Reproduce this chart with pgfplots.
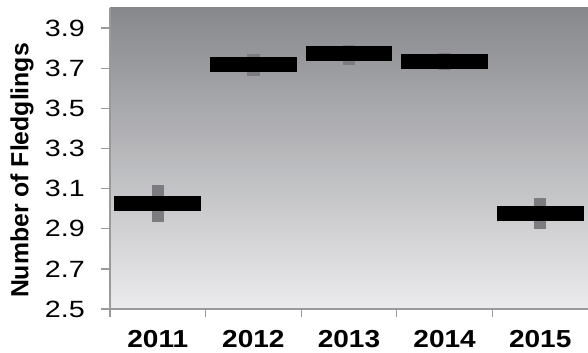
\documentclass[border=0pt]{standalone}
\usepackage{fontspec}
\setmainfont{Liberation Sans}
\usepackage{pgfplots}
\pgfplotsset{compat=1.18}
\definecolor{bgtop}{HTML}{87888C}
\definecolor{bgbot}{HTML}{EBEBED}
\definecolor{errgray}{HTML}{7C7C80}
\definecolor{axgray}{HTML}{9A9A9A}
\newcommand{\xl}[1]{\scalebox{1.14}[1]{#1}}
\begin{document}
\begin{tikzpicture}
\begin{axis}[
  scale only axis,
  width=478bp, height=301bp,
  xmin=-0.5, xmax=4.5,
  ymin=2.5, ymax=4.0,
  axis x line=bottom, axis y line=left,
  axis line style={-, draw=axgray, line width=1.3bp},
  tick style={draw=axgray, line width=1.3bp},
  tick align=outside,
  major tick length=9bp,
  minor tick length=8bp,
  ytick={2.5,2.7,2.9,3.1,3.3,3.5,3.7,3.9},
  xtick={0,1,2,3,4},
  xticklabels={\xl{2011},\xl{2012},\xl{2013},\xl{2014},\xl{2015}},
  major x tick style={draw=none},
  minor xtick={-0.5,0.5,1.5,2.5,3.5},
  /pgf/number format/assume math mode=true,
  yticklabel={\scalebox{1.22}[1]{\pgfmathprintnumber[fixed,precision=1,fixed zerofill]{\tick}}},
  yticklabel style={inner sep=0pt, anchor=east, xshift=-16bp, font=\fontsize{23.5bp}{28bp}\selectfont},
  xticklabel style={inner sep=0pt, anchor=north, yshift=-12.5bp, font=\fontsize{24.6bp}{28bp}\selectfont\bfseries},
  ylabel={Number of Fledglings},
  every axis y label/.style={at={(axis description cs:-0.184,0.46)}, rotate=90, anchor=center, font=\fontsize{24.8bp}{28bp}\selectfont\bfseries},
  axis background/.style={top color=bgtop, bottom color=bgbot},
  clip=false,
]
\addplot[only marks, mark=none, draw=none,
  error bars/.cd, y dir=both, y explicit, error mark=none,
  error bar style={line width=12.5bp, draw=errgray}]
  coordinates {
    (0,3.027) +- (0,0.092)
    (1,3.716) +- (0,0.056)
    (2,3.767) +- (0,0.050)
    (3,3.734) +- (0,0.044)
    (4,2.975) +- (0,0.077)
  };
\addplot[only marks, mark=none, draw=none,
  error bars/.cd, x dir=both, x explicit, error mark=none,
  error bar style={line width=15bp, draw=black}]
  coordinates {
    (0,3.027) +- (0.455,0)
    (1,3.716) +- (0.455,0)
    (2,3.771) +- (0.455,0)
    (3,3.734) +- (0.455,0)
    (4,2.975) +- (0.455,0)
  };
\end{axis}
\pgfresetboundingbox
\path[use as bounding box] (-110bp,-44bp) rectangle (478bp,309bp);
\end{tikzpicture}
\end{document}
